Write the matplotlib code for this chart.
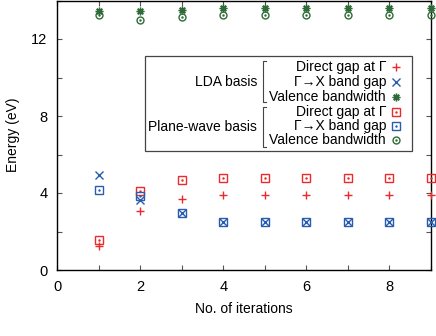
import matplotlib
matplotlib.use('Agg')
import matplotlib.pyplot as plt
from matplotlib.ticker import MultipleLocator
from matplotlib.patches import Rectangle
from matplotlib.lines import Line2D

plt.rcParams['font.family'] = ['Liberation Sans', 'DejaVu Sans']
plt.rcParams['font.size'] = 10

# data
iterations = [1, 2, 3, 4, 5, 6, 7, 8, 9]
lda_direct = [1.25, 3.06, 3.69, 3.90, 3.90, 3.90, 3.90, 3.90, 3.90]
lda_gx = [4.94, 3.64, 2.96, 2.49, 2.49, 2.49, 2.49, 2.49, 2.49]
lda_vb = [13.45, 13.45, 13.5, 13.6, 13.6, 13.6, 13.6, 13.6, 13.6]
pw_direct = [1.56, 4.10, 4.67, 4.78, 4.78, 4.78, 4.78, 4.78, 4.78]
pw_gx = [4.16, 3.84, 2.96, 2.49, 2.49, 2.49, 2.49, 2.49, 2.49]
pw_vb = [13.25, 13.0, 13.15, 13.25, 13.25, 13.25, 13.25, 13.25, 13.25]

row_labels = ['Direct gap at \u0393', '\u0393\u2192X band gap', 'Valence bandwidth']
group_labels = ['LDA basis', 'Plane-wave basis']

red = '#ec2a2a'
blue = '#2a5cae'
green = '#2f6b38'

# marker styles: (marker, color, size, dotted centre)
styles = [
    ('+', red, 5.5, False),
    ('x', blue, 6, False),
    ((8, 2, 0), green, 5.5, False),
    ('s', red, 5.8, True),
    ('s', blue, 5.8, True),
    ('o', green, 5, True),
]
series = [lda_direct, lda_gx, lda_vb, pw_direct, pw_gx, pw_vb]

fig = plt.figure(figsize=(4.36, 3.36), dpi=100)
W, H = 436, 336
ax = fig.add_axes([57 / W, 66 / H, 374 / W, 269.5 / H])

for vals, (m, c, ms, dot) in zip(series, styles):
    ax.plot(iterations, vals, linestyle='none', marker=m, color=c, ms=ms,
            mfc='none', mew=1.0, clip_on=False, zorder=3)
    if dot:
        ax.plot(iterations, vals, linestyle='none', marker='.', color=c,
                ms=1.5, clip_on=False, zorder=3)

ax.set_xlim(0, 9)
ax.set_ylim(0, 14)
ax.xaxis.set_major_locator(MultipleLocator(2))
ax.xaxis.set_minor_locator(MultipleLocator(1))
ax.yaxis.set_major_locator(MultipleLocator(4))
ax.yaxis.set_minor_locator(MultipleLocator(2))
ax.tick_params(which='both', direction='in', top=True, right=True,
               length=3.5, width=0.8, color='#555555')
ax.tick_params(which='major', pad=7, labelsize=10.5)
for s in ax.spines.values():
    s.set_linewidth(1.0)
ax.set_xlabel('No. of iterations', labelpad=6)
ax.set_ylabel('Energy (eV)', labelpad=8)


# legend drawn by hand in pixel coords of the figure
def fx(px):
    return (px - 57) / 374


def fy(py):
    return (270 - py) / 269.5


ax.add_patch(Rectangle((fx(145), fy(151)), fx(412) - fx(145), fy(56) - fy(151),
                       transform=ax.transAxes, facecolor='white',
                       edgecolor='#444444', lw=0.9, zorder=4))
row_y = [67, 82, 97, 112, 126, 140]
for i, (m, c, ms, dot) in enumerate(styles):
    ax.text(fx(386), fy(row_y[i]), row_labels[i % 3], transform=ax.transAxes,
            ha='right', va='center', zorder=5)
    ax.add_line(Line2D([fx(396)], [fy(row_y[i])], transform=ax.transAxes,
                       marker=m, color=c, ms=ms, mfc='none', mew=1.0,
                       linestyle='none', zorder=5))
    if dot:
        ax.add_line(Line2D([fx(396)], [fy(row_y[i])], transform=ax.transAxes,
                           marker='.', color=c, ms=1.5, linestyle='none', zorder=5))

for g, (top, bot) in enumerate([(61, 102), (107, 147)]):
    ax.text(fx(257), fy((top + bot) / 2), group_labels[g], transform=ax.transAxes,
            ha='right', va='center', zorder=5)
    ax.add_line(Line2D([fx(266), fx(263), fx(263), fx(266)],
                       [fy(top), fy(top), fy(bot), fy(bot)],
                       transform=ax.transAxes, color='#444444', lw=0.8, zorder=5))

fig.savefig('out.png', dpi=100)
